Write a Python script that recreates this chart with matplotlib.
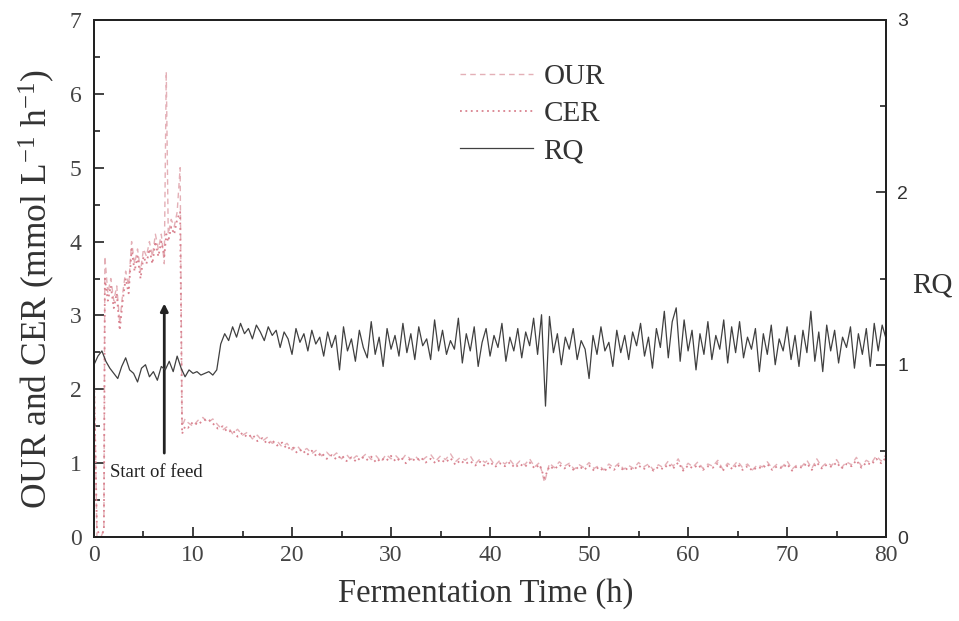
import numpy as np
import matplotlib
matplotlib.use("Agg")
import matplotlib.pyplot as plt

plt.rcParams["mathtext.fontset"] = "custom"
plt.rcParams["mathtext.rm"] = "Liberation Serif"
plt.rcParams["mathtext.it"] = "Liberation Serif:italic"
plt.rcParams["mathtext.bf"] = "Liberation Serif:bold"

# ---------------- data ----------------
# RQ sampled every 0.4 h from 0 to 80 h
rq = [1.00, 1.05, 1.08, 1.02, 0.98, 0.95, 0.92, 0.99, 1.04, 0.97,
      0.95, 0.90, 0.98, 1.00, 0.93, 0.96, 0.91, 0.99, 0.97, 1.02,
      0.96, 1.05, 0.98, 0.93, 0.97, 0.95, 0.96, 0.94, 0.95, 0.96,
      0.94, 0.97, 1.12, 1.18, 1.14, 1.22, 1.16, 1.24, 1.18, 1.21,
      1.15, 1.23, 1.19, 1.14, 1.22, 1.17, 1.20, 1.10, 1.19, 1.15,
      1.06, 1.21, 1.13, 1.18, 1.08, 1.20, 1.12, 1.16, 1.05, 1.19,
      1.10, 1.17, 0.97, 1.22, 1.08, 1.15, 1.02, 1.20, 1.10, 1.04,
      1.25, 1.06, 1.16, 0.99, 1.21, 1.09, 1.17, 1.05, 1.24, 1.07,
      1.18, 1.03, 1.22, 1.11, 1.15, 1.03, 1.26, 1.08, 1.20, 1.06,
      1.14, 1.09, 1.27, 1.01, 1.18, 1.08, 1.22, 0.99, 1.13, 1.21,
      1.05, 1.17, 1.10, 1.24, 1.02, 1.16, 1.08, 1.21, 1.04, 1.19,
      1.11, 1.27, 1.06, 1.29, 0.76, 1.28, 1.07, 1.18, 1.00, 1.16,
      1.09, 1.21, 1.03, 1.14, 1.09, 0.92, 1.17, 1.06, 1.22, 1.08,
      1.13, 0.99, 1.20, 1.07, 1.17, 1.03, 1.19, 1.11, 1.24, 1.05,
      1.16, 0.98, 1.21, 1.10, 1.31, 1.04, 1.25, 1.33, 1.02, 1.26,
      1.08, 1.20, 0.97, 1.18, 1.06, 1.25, 1.03, 1.17, 1.09, 1.26,
      1.01, 1.22, 1.07, 1.25, 1.04, 1.16, 1.09, 1.21, 0.96, 1.18,
      1.06, 1.23, 1.00, 1.15, 1.08, 1.22, 1.03, 1.17, 0.99, 1.20,
      1.07, 1.31, 1.02, 1.19, 0.96, 1.23, 1.08, 1.20, 1.01, 1.16,
      1.10, 1.22, 0.98, 1.18, 1.06, 1.21, 0.99, 1.24, 1.08, 1.23,
      1.15]
rq_step = 0.4

# OUR / CER early phase (0 - 9.2 h), irregular sampling
t_early = [0.0, 0.3, 0.7, 1.0, 1.1, 1.4, 1.7, 2.0, 2.3, 2.6, 2.9, 3.2, 3.5,
           3.8, 4.1, 4.4, 4.7, 5.0, 5.3, 5.6, 5.9, 6.2, 6.5, 6.8, 7.1, 7.3,
           7.5, 7.8, 8.1, 8.4, 8.7, 8.9, 9.2]
our_early = [2.3, 0.0, 0.0, 0.1, 3.8, 3.3, 3.5, 3.2, 3.4, 2.9, 3.3, 3.6, 3.4,
             4.0, 3.7, 3.9, 3.6, 3.9, 3.8, 4.0, 3.8, 4.1, 3.9, 4.1, 3.7, 6.3,
             4.1, 4.3, 4.2, 4.4, 5.0, 1.5, 1.6]
cer_early = [2.2, 0.1, 0.0, 0.1, 3.5, 3.2, 3.4, 3.1, 3.3, 2.8, 3.2, 3.5, 3.3,
             3.9, 3.6, 3.8, 3.5, 3.8, 3.7, 3.9, 3.7, 4.0, 3.8, 4.0, 3.8, 4.1,
             4.0, 4.2, 4.1, 4.3, 4.4, 1.4, 1.5]

# OUR / CER late phase, every 0.5 h from 9.5 to 80 h
late_start = 9.5
late_step = 0.5
our_late = [1.55, 1.50, 1.58, 1.62, 1.55, 1.60,
            1.52, 1.45, 1.50, 1.40, 1.46, 1.38,
            1.42, 1.33, 1.38, 1.30, 1.35, 1.27,
            1.30, 1.22, 1.27, 1.18, 1.24, 1.16,
            1.20, 1.13, 1.18, 1.10, 1.15, 1.08,
            1.14, 1.06, 1.12, 1.04, 1.10, 1.07,
            1.13, 1.05, 1.10, 1.02, 1.12, 1.06,
            1.10, 1.03, 1.12, 1.05, 1.09, 1.02,
            1.08, 1.12, 1.03, 1.10, 1.05, 1.13,
            1.02, 1.08, 1.04, 1.10, 0.99, 1.06,
            1.01, 1.07, 0.97, 1.04, 0.99, 1.05,
            0.96, 1.03, 0.98, 1.06, 0.95, 1.01,
            0.74, 1.00, 0.94, 1.02, 0.96, 1.00,
            0.92, 0.98, 0.94, 1.01, 0.93, 0.97,
            0.91, 0.99, 0.94, 1.00, 0.92, 0.97,
            0.93, 1.01, 0.95, 0.99, 0.91, 0.98,
            0.94, 1.03, 0.96, 1.06, 0.92, 1.00,
            0.95, 1.02, 0.93, 0.99, 0.96, 1.04,
            0.92, 1.00, 0.95, 1.03, 0.94, 0.99,
            0.91, 0.98, 0.95, 1.02, 0.93, 0.99,
            0.95, 1.03, 0.92, 0.98, 0.96, 1.04,
            0.93, 1.06, 0.95, 1.01, 0.97, 1.05,
            0.94, 1.02, 0.98, 1.08, 0.96, 1.04,
            1.00, 1.10, 1.03, 1.12]
cer_late = [1.48, 1.56, 1.52, 1.58, 1.60, 1.54,
            1.47, 1.50, 1.42, 1.45, 1.36, 1.41,
            1.35, 1.39, 1.30, 1.34, 1.26, 1.31,
            1.24, 1.28, 1.19, 1.23, 1.14, 1.19,
            1.11, 1.17, 1.09, 1.14, 1.06, 1.11,
            1.05, 1.11, 1.03, 1.08, 1.02, 1.09,
            1.04, 1.09, 1.01, 1.07, 1.03, 1.10,
            1.02, 1.08, 1.00, 1.07, 1.03, 1.08,
            1.01, 1.06, 1.00, 1.05, 1.01, 1.07,
            0.98, 1.04, 0.99, 1.03, 0.97, 1.02,
            0.96, 1.02, 0.95, 1.00, 0.96, 1.01,
            0.94, 0.99, 0.95, 1.01, 0.93, 0.98,
            0.80, 0.96, 0.92, 0.98, 0.93, 0.97,
            0.90, 0.96, 0.91, 0.97, 0.90, 0.95,
            0.89, 0.95, 0.91, 0.97, 0.90, 0.94,
            0.91, 0.97, 0.92, 0.96, 0.90, 0.95,
            0.92, 0.99, 0.93, 1.01, 0.90, 0.97,
            0.93, 0.98, 0.91, 0.96, 0.94, 1.00,
            0.90, 0.97, 0.92, 0.99, 0.91, 0.96,
            0.90, 0.95, 0.93, 0.99, 0.91, 0.96,
            0.93, 0.99, 0.90, 0.96, 0.94, 1.00,
            0.91, 1.01, 0.93, 0.98, 0.95, 1.01,
            0.93, 0.99, 0.96, 1.04, 0.94, 1.01,
            0.98, 1.06, 1.00, 1.08]

feed_time = 7.1
feed_arrow = (1.1, 3.2)

# ---------------- build series ----------------
t_rq = np.arange(len(rq)) * rq_step
t_late = late_start + np.arange(len(our_late)) * late_step
t_oc = np.concatenate([t_early, t_late])
our = np.concatenate([our_early, our_late])
cer = np.concatenate([cer_early, cer_late])

serif = "Liberation Serif"
sans = "Liberation Sans"

fig = plt.figure(figsize=(9.59, 6.21), dpi=100)
ax = fig.add_axes([0.098, 0.135, 0.826, 0.833])
ax2 = ax.twinx()

l_our, = ax.plot(t_oc, our, ls=(0, (4, 3)), color="#e4b0b7", lw=1.0, label="OUR")
l_cer, = ax.plot(t_oc, cer, ls=(0, (1, 2)), color="#d9828f", lw=1.3, label="CER")
l_rq, = ax2.plot(t_rq, rq, color="#404040", lw=0.9, label="RQ")

ax.set_xlim(0, 80)
ax.set_ylim(0, 7)
ax2.set_ylim(0, 3)

ax.set_xticks(np.arange(0, 81, 10))
ax.set_xticks(np.arange(0, 81, 5), minor=True)
ax.set_yticks(np.arange(0, 8, 1))
ax.set_yticks(np.arange(0, 7.01, 0.5), minor=True)
ax2.set_yticks([0, 1, 2, 3])
ax2.set_yticks(np.arange(0, 3.01, 0.5), minor=True)

for a in (ax, ax2):
    a.tick_params(which="both", direction="in", width=1.2, color="#222")
    a.tick_params(which="major", length=7)
    a.tick_params(which="minor", length=4)
    for s in a.spines.values():
        s.set_linewidth(1.4)
        s.set_color("#222")

ax.tick_params(axis="x", labelsize=17, labelcolor="#444", pad=6)
ax.tick_params(axis="y", labelsize=17, labelcolor="#444", pad=9)
for lab in ax.get_xticklabels() + ax.get_yticklabels():
    lab.set_fontfamily(serif)
ax2.tick_params(axis="y", labelsize=14, labelcolor="#333", pad=8)
for lab in ax2.get_yticklabels():
    lab.set_fontfamily(sans)

ax.set_xlabel("Fermentation Time (h)", fontfamily=serif, fontsize=23.5,
              color="#333")
ax.xaxis.set_label_coords(0.494, -0.08)
ax.set_ylabel(r"OUR and CER (mmol L$^{-1}$ h$^{-1}$)", fontfamily=serif,
              fontsize=25.5, color="#333")
ax.yaxis.set_label_coords(-0.047, 0.48)
ax2.set_ylabel("RQ", fontfamily=serif, fontsize=21, color="#333",
               rotation=0, va="center", ha="center")
ax2.yaxis.set_label_coords(1.059, 0.487)

# Start of feed annotation
ax.annotate("", xy=(feed_time, feed_arrow[1]), xytext=(feed_time, feed_arrow[0]),
            arrowprops=dict(arrowstyle="-|>", color="#222", lw=2.0,
                            mutation_scale=11))
ax.text(1.6, 0.87, "Start of feed", fontfamily=serif, fontsize=13.5,
        color="#222", va="center")

leg = fig.legend(handles=[l_our, l_cer, l_rq], loc="upper left",
                 bbox_to_anchor=(0.48, 0.897), frameon=False, borderpad=0,
                 borderaxespad=0,
                 prop={"family": serif, "size": 21}, handlelength=2.5,
                 handletextpad=0.35, labelspacing=0.36)
for t in leg.get_texts():
    t.set_color("#333")

fig.savefig("out.png", dpi=100)
